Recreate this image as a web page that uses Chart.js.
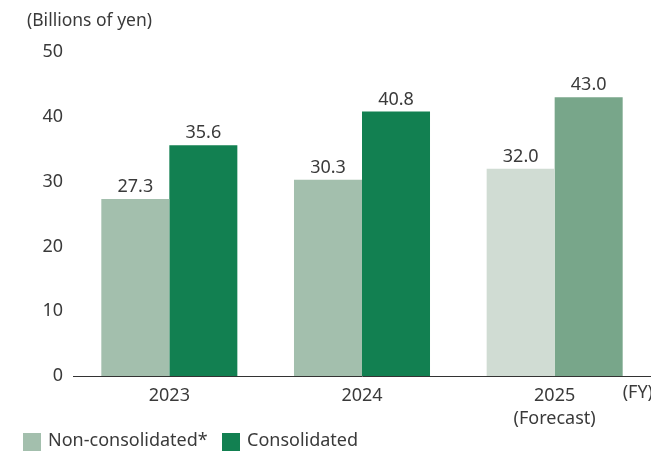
<!DOCTYPE html>
<html>
<head>
<meta charset="utf-8">
<script src="https://cdn.jsdelivr.net/npm/chart.js@4/dist/chart.umd.min.js"></script>
<style>
html,body{margin:0;padding:0;background:#fff;}
#wrap{width:651px;height:451px;position:relative;}
</style>
</head>
<body>
<div id="wrap"><canvas id="c" width="651" height="451"></canvas></div>
<script>
const categories = [["2023"], ["2024"], ["2025", "(Forecast)"]];
const nonConsolidated = [27.3, 30.3, 32.0];
const consolidated = [35.6, 40.8, 43.0];
const yTicks = [0, 10, 20, 30, 40, 50];
const seriesNames = ["Non-consolidated*", "Consolidated"];
const unitLabel = "(Billions of yen)";
const fyLabel = "(FY)";

const FONT = "'Noto Sans', Lato, sans-serif";
const TEXT = "#3a3a3a";
const nonColors = ["#a3bfad", "#a3bfad", "#d0dcd3"];
const conColors = ["#128051", "#128051", "#78a68a"];
const legendColors = ["#a3bfad", "#128051"];

const extras = {
  id: "extras",
  afterDatasetsDraw(chart) {
    const ctx = chart.ctx;
    ctx.save();
    ctx.fillStyle = TEXT;
    ctx.font = "18px " + FONT;
    ctx.textAlign = "center";
    ctx.textBaseline = "bottom";
    chart.data.datasets.forEach((ds, i) => {
      chart.getDatasetMeta(i).data.forEach((el, j) => {
        ctx.fillText(ds.data[j].toFixed(1), el.x, el.y - 3);
      });
    });
    // unit label
    ctx.textAlign = "left";
    ctx.textBaseline = "top";
    ctx.font = "17.5px " + FONT;
    ctx.fillText(unitLabel, 27, 12);
    // FY label
    ctx.textAlign = "right";
    ctx.font = "18px " + FONT;
    ctx.fillText(fyLabel, 653, 384);
    // legend
    ctx.textAlign = "left";
    ctx.textBaseline = "middle";
    ctx.font = "18px " + FONT;
    let x = 23;
    seriesNames.forEach((name, i) => {
      ctx.fillStyle = legendColors[i];
      ctx.fillRect(x, 433, 18, 18);
      ctx.fillStyle = TEXT;
      ctx.fillText(name, x + 25, 441);
      x = 222;
    });
    ctx.restore();
  }
};

new Chart(document.getElementById("c"), {
  type: "bar",
  data: {
    labels: categories,
    datasets: [
      { label: seriesNames[0], data: nonConsolidated, backgroundColor: nonColors, borderWidth: 0 },
      { label: seriesNames[1], data: consolidated, backgroundColor: conColors, borderWidth: 0 }
    ]
  },
  options: {
    responsive: false,
    animation: false,
    devicePixelRatio: 1,
    layout: { padding: { top: 52, right: 0, bottom: 0, left: 0 } },
    plugins: { legend: { display: false }, tooltip: { enabled: false }, title: { display: false } },
    datasets: { bar: { categoryPercentage: 0.706, barPercentage: 1.0 } },
    scales: {
      x: {
        grid: { display: false, drawTicks: false },
        border: { display: true, color: "#333333", width: 1 },
        ticks: { color: TEXT, font: { family: FONT, size: 18, lineHeight: 1.25 }, padding: 9, maxRotation: 0 },
        afterFit(s) { s.height = 75; }
      },
      y: {
        min: 0, max: 50,
        afterBuildTicks(s) { s.ticks = yTicks.map(v => ({ value: v })); },
        grid: { display: false, drawTicks: false },
        border: { display: false },
        ticks: { color: TEXT, font: { family: FONT, size: 18 }, padding: 10 },
        afterFit(s) { s.width = 73; }
      }
    }
  },
  plugins: [extras]
});
</script>
</body>
</html>
